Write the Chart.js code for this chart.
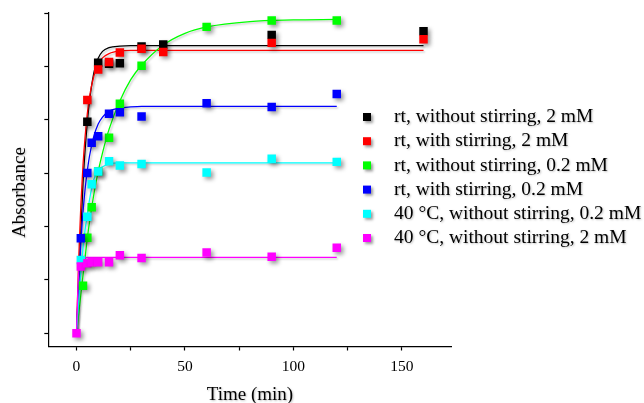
<!DOCTYPE html>
<html>
<head>
<meta charset="utf-8">
<title>Absorbance vs time</title>
<script src="https://cdn.jsdelivr.net/npm/chart.js@4/dist/chart.umd.min.js"></script>
<style>
  html, body { margin: 0; padding: 0; background: #fff; }
  #wrap { width: 644px; height: 403px; }
</style>
</head>
<body>
<div id="wrap"><canvas id="absChart" width="644" height="403"></canvas></div>
<script>
  /* =========================
     DATA
  ========================= */

  const SERIES_LABELS = [
    "rt, without stirring, 2 mM",
    "rt, with stirring, 2 mM",
    "rt, without stirring, 0.2 mM",
    "rt, with stirring, 0.2 mM",
    "40 °C, without stirring, 0.2 mM",
    "40 °C, without stirring, 2 mM"
  ];
  const SERIES_COLORS = ["#000000", "#ff0000", "#00ff00", "#0000ff", "#00ffff", "#ff00ff"];

  // measured points (time in min, absorbance in arbitrary units)
  // the t = 0 points of all series sit under the magenta one
  const blackT = [5, 10, 15, 20, 30, 40, 90, 160];
  const blackA = [3.96, 5.07, 5.05, 5.06, 5.37, 5.41, 5.59, 5.66];
  const redT = [5, 10, 15, 20, 30, 40, 90, 160];
  const redA = [4.37, 4.94, 5.08, 5.26, 5.33, 5.27, 5.44, 5.51];
  const greenT = [3, 5, 7, 10, 15, 20, 30, 60, 90, 120];
  const greenA = [0.89, 1.79, 2.36, 3.03, 3.66, 4.30, 5.01, 5.74, 5.86, 5.86];
  const blueT = [2, 5, 7, 10, 15, 20, 30, 60, 90, 120];
  const blueA = [1.78, 3.0, 3.57, 3.69, 4.11, 4.14, 4.06, 4.31, 4.24, 4.48];
  const cyanT = [2, 5, 7, 10, 15, 20, 30, 60, 90, 120];
  const cyanA = [1.37, 2.18, 2.79, 3.03, 3.22, 3.14, 3.17, 3.01, 3.27, 3.21];
  const magentaT = [0, 2, 5, 7, 10, 15, 20, 30, 60, 90, 120];
  const magentaA = [0, 1.25, 1.31, 1.33, 1.33, 1.33, 1.46, 1.41, 1.51, 1.43, 1.60];

  // fitted curves at these times
  const fitT = [0, 1, 2, 3, 4, 5, 6, 8, 10, 12, 15, 20, 25, 30, 40, 50, 60, 80, 100, 120, 140, 160];
  const blackFit = [0, 0.9, 1.9, 2.8, 3.45, 3.95, 4.35, 4.88, 5.15, 5.28, 5.35, 5.38, 5.39, 5.39, 5.39, 5.39, 5.39, 5.39, 5.39, 5.39, 5.39, 5.39];
  const redFit = [0, 1.37, 2.39, 3.15, 3.7, 4.12, 4.43, 4.82, 5.04, 5.16, 5.24, 5.29, 5.3, 5.3, 5.3, 5.3, 5.3, 5.3, 5.3, 5.3, 5.3, 5.3];
  const greenFit = [0, 0.35, 0.72, 1.08, 1.43, 1.78, 2.08, 2.6, 3.03, 3.38, 3.82, 4.35, 4.75, 5.02, 5.4, 5.62, 5.74, 5.84, 5.87, 5.88];
  const blueFit = [0, 0.96, 1.7, 2.27, 2.71, 3.05, 3.32, 3.69, 3.92, 4.05, 4.16, 4.22, 4.24, 4.25, 4.25, 4.25, 4.25, 4.25, 4.25, 4.25];
  const cyanFit = [0, 0.6, 1.15, 1.6, 1.95, 2.22, 2.5, 2.88, 3.05, 3.12, 3.17, 3.19, 3.19, 3.19, 3.19, 3.19, 3.19, 3.19, 3.19, 3.19];
  const magentaFit = [0, 1.15, 1.32, 1.38, 1.41, 1.42, 1.42, 1.42, 1.42, 1.42, 1.42, 1.42, 1.42, 1.42, 1.42, 1.42, 1.42, 1.42, 1.42, 1.42];

  const X_TICK_STEP = 25;
  const Y_TICK_STEP = 1;

  /* =========================
     HELPERS
  ========================= */

  const SERIF = "'Liberation Serif', 'Times New Roman', serif";

  function pairs(xs, ys) {
    return ys.map((y, i) => ({ x: xs[i], y }));
  }

  const measured = [
    [blackT, blackA], [redT, redA], [greenT, greenA],
    [blueT, blueA], [cyanT, cyanA], [magentaT, magentaA]
  ];
  const fits = [blackFit, redFit, greenFit, blueFit, cyanFit, magentaFit];

  const datasets = [];

  fits.forEach((f, i) => {
    datasets.push({
      label: SERIES_LABELS[i] + " fit",
      data: pairs(fitT, f),
      showLine: true,
      isFit: true,
      borderColor: SERIES_COLORS[i],
      borderWidth: 1.3,
      pointRadius: 0,
      cubicInterpolationMode: "monotone",
      order: 20 - i
    });
  });

  measured.forEach(([t, a], i) => {
    datasets.push({
      label: SERIES_LABELS[i],
      data: pairs(t, a),
      showLine: false,
      pointStyle: "rect",
      pointRadius: 6,
      pointBorderWidth: 0,
      backgroundColor: SERIES_COLORS[i],
      borderColor: SERIES_COLORS[i],
      order: 10 - i
    });
  });

  /* =========================
     PLUGINS
  ========================= */

  // soft drop shadow like the original plot
  const shadowPlugin = {
    id: "shadows",
    beforeDatasetDraw(chart, args) {
      const ctx = chart.ctx;
      const ds = chart.data.datasets[args.index];
      ctx.save();
      if (ds.isFit) {
        ctx.shadowColor = "rgba(0,0,0,0.22)";
        ctx.shadowBlur = 2;
        ctx.shadowOffsetX = 1.5;
        ctx.shadowOffsetY = 1.5;
      } else {
        ctx.shadowColor = "rgba(0,0,0,0.4)";
        ctx.shadowBlur = 4;
        ctx.shadowOffsetX = 2.5;
        ctx.shadowOffsetY = 2.5;
      }
    },
    afterDatasetDraw(chart) {
      chart.ctx.restore();
    }
  };

  // axis titles and the legend on the right
  const textPlugin = {
    id: "texts",
    afterDraw(chart) {
      const ctx = chart.ctx;
      const area = chart.chartArea;
      ctx.save();
      ctx.fillStyle = "#000";
      ctx.shadowColor = "rgba(0,0,0,0.25)";
      ctx.shadowBlur = 2;
      ctx.shadowOffsetX = 1;
      ctx.shadowOffsetY = 1;

      ctx.font = "19px " + SERIF;
      ctx.textAlign = "center";
      ctx.textBaseline = "alphabetic";
      ctx.fillText("Time (min)", (area.left + area.right) / 2, 400);

      ctx.save();
      ctx.translate(25, 192.5);
      ctx.rotate(-Math.PI / 2);
      ctx.fillText("Absorbance", 0, 0);
      ctx.restore();

      ctx.font = "19.5px " + SERIF;
      ctx.textAlign = "left";
      ctx.textBaseline = "middle";
      SERIES_LABELS.forEach((label, i) => {
        const y = 117 + i * 24.2;
        ctx.shadowColor = "rgba(0,0,0,0.4)";
        ctx.shadowBlur = 3;
        ctx.shadowOffsetX = 2;
        ctx.shadowOffsetY = 2;
        ctx.fillStyle = SERIES_COLORS[i];
        ctx.fillRect(363, y - 4, 8, 8);
        ctx.shadowColor = "rgba(0,0,0,0.25)";
        ctx.shadowBlur = 2;
        ctx.shadowOffsetX = 1;
        ctx.shadowOffsetY = 1;
        ctx.fillStyle = "#000";
        ctx.fillText(label, 394, y);
      });
      ctx.restore();
    }
  };

  /* =========================
     CHART SETUP
  ========================= */

  const ctx = document.getElementById("absChart").getContext("2d");

  const chart = new Chart(ctx, {
    type: "scatter",
    data: { datasets },
    options: {
      responsive: false,
      animation: false,
      layout: { padding: { left: 0, right: 192.3, top: 13, bottom: 0 } },
      plugins: {
        legend: { display: false },
        tooltip: { enabled: false }
      },
      scales: {
        x: {
          type: "linear",
          min: -13,
          max: 173,
          afterFit: s => { s.height = 56.5; },
          border: { display: true, color: "#000", width: 1.2 },
          grid: { drawOnChartArea: false, drawTicks: true, tickLength: 4, color: "#000", tickWidth: 1.2 },
          ticks: {
            stepSize: X_TICK_STEP,
            includeBounds: false,
            autoSkip: false,
            maxRotation: 0,
            padding: 7,
            color: "#000",
            font: { family: SERIF, size: 15.5 },
            callback: v => (v % 50 === 0 ? v : "")
          }
        },
        y: {
          type: "linear",
          min: -0.25,
          max: 6,
          afterFit: s => { s.width = 48.3; },
          border: { display: true, color: "#000", width: 1.2 },
          grid: { drawOnChartArea: false, drawTicks: true, tickLength: 4, color: "#000", tickWidth: 1.2 },
          ticks: {
            stepSize: Y_TICK_STEP,
            includeBounds: false,
            autoSkip: false,
            font: { size: 8 },
            callback: () => ""
          }
        }
      }
    },
    plugins: [shadowPlugin, textPlugin]
  });
</script>
</body>
</html>
